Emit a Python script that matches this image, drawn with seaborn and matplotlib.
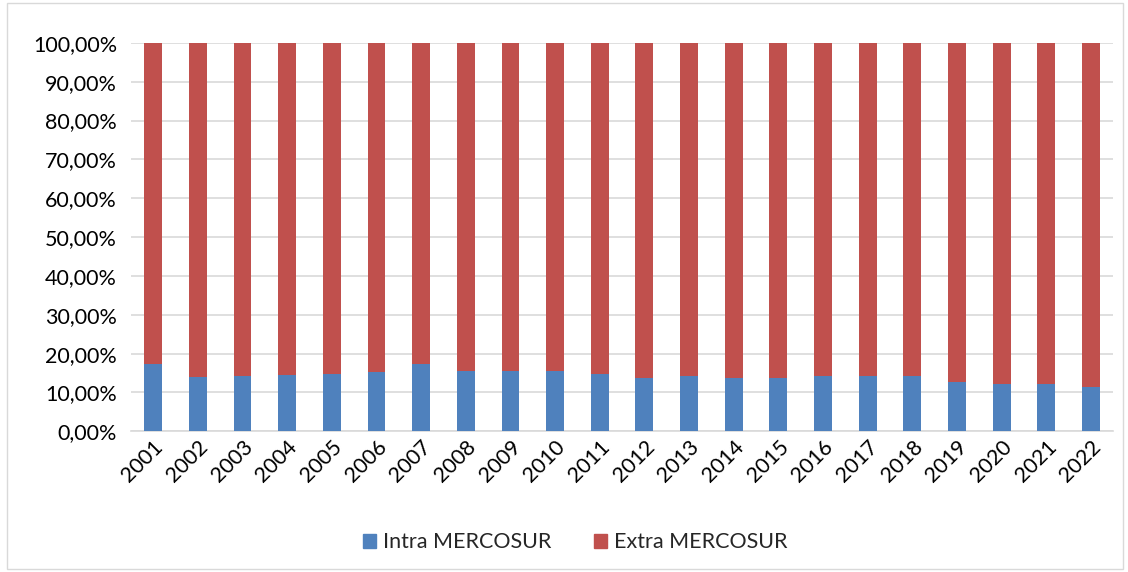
import pandas as pd
import matplotlib
matplotlib.use('Agg')
import matplotlib.pyplot as plt
import matplotlib.patches as mpatches
from matplotlib.ticker import FuncFormatter
import seaborn as sns

# Share of trade, percent
years = [str(y) for y in range(2001, 2023)]
intra = [17.3, 13.9, 14.2, 14.5, 14.7, 15.2, 17.3, 15.4, 15.6, 15.4, 14.7,
         13.8, 14.2, 13.6, 13.7, 14.2, 14.2, 14.2, 12.7, 12.1, 12.1, 11.3]
extra = [100 - v for v in intra]

df = pd.DataFrame({'Year': years, 'Intra': intra, 'Extra': extra})
df['Total'] = df['Intra'] + df['Extra']

blue = '#4F81BD'
red = '#C0504D'

sns.set_theme(style='white')
plt.rcParams['font.family'] = ['Lato', 'DejaVu Sans']

fig = plt.figure(figsize=(11.28, 5.72), dpi=100)
ax = fig.add_axes([0.116, 0.246, 0.871, 0.679])

# stacked: total (red) behind, intra (blue) on top
sns.barplot(data=df, x='Year', y='Total', color=red, width=0.4, saturation=1,
            ax=ax, zorder=2, edgecolor='none')
sns.barplot(data=df, x='Year', y='Intra', color=blue, width=0.4, saturation=1,
            ax=ax, zorder=3, edgecolor='none')

ax.set_ylim(0, 100)
ax.set_xlim(-0.5, len(years) - 0.5)
ax.set_yticks(range(0, 101, 10))
ax.yaxis.set_major_formatter(FuncFormatter(lambda v, p: f'{v:.2f}%'.replace('.', ',')))
ax.yaxis.grid(True, color='#D9D9D9', linewidth=1.2, zorder=0)
ax.set_axisbelow(True)
for s in ['top', 'right', 'left']:
    ax.spines[s].set_visible(False)
ax.spines['bottom'].set_color('#D9D9D9')
ax.spines['bottom'].set_linewidth(1.2)
ax.set_xlabel('')
ax.set_ylabel('')
ax.tick_params(axis='y', labelsize=15.5, colors='#000000', length=0, pad=10)
ax.tick_params(axis='x', labelsize=15.5, colors='#000000', length=0, pad=4)
plt.setp(ax.get_xticklabels(), rotation=45, ha='right', rotation_mode='anchor')

handles = [mpatches.Patch(color=blue, label='Intra MERCOSUR'),
           mpatches.Patch(color=red, label='Extra MERCOSUR')]
fig.legend(handles=handles, loc='center', bbox_to_anchor=(0.51, 0.052), ncol=2,
           frameon=False, fontsize=15.5, handlelength=0.6, handleheight=0.6,
           handletextpad=0.3, columnspacing=2.0)

# thin border around the chart area
fig.patches.append(mpatches.Rectangle((0.006, 0.005), 0.99, 0.99, transform=fig.transFigure,
                                      fill=False, edgecolor='#D9D9D9', linewidth=1))

fig.savefig('out.png', dpi=100, facecolor='white')
